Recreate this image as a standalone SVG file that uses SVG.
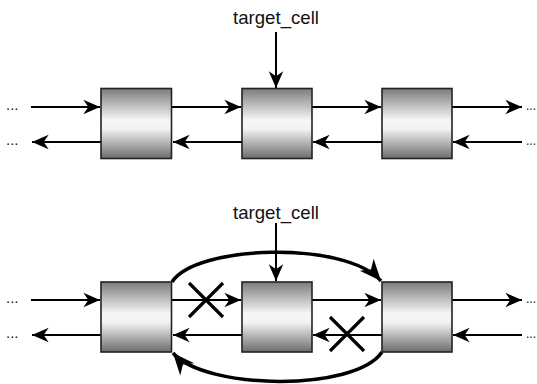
<svg xmlns="http://www.w3.org/2000/svg" width="537" height="384" viewBox="0 0 537 384">
<defs>
<linearGradient id="g" x1="0" y1="0" x2="0" y2="1">
<stop offset="0" stop-color="#7c7c7c"/>
<stop offset="0.45" stop-color="#f6f6f6"/>
<stop offset="0.58" stop-color="#f2f2f2"/>
<stop offset="1" stop-color="#6c6c6c"/>
</linearGradient>
<marker id="a" markerUnits="userSpaceOnUse" markerWidth="20" markerHeight="20" viewBox="-16 -8 18 16" refX="0" refY="0" orient="auto">
<path d="M0,0 L-15,-6.5 L-10.5,0 L-15,6.5 Z" fill="#000"/>
</marker>
<marker id="b" markerUnits="userSpaceOnUse" markerWidth="26" markerHeight="26" viewBox="-22 -11 24 22" refX="0" refY="0" orient="auto">
<path d="M0,0 L-20,-8.5 L-14,0 L-20,8.5 Z" fill="#000"/>
</marker>
</defs>
<style>
.box{fill:url(#g);stroke:#222;stroke-width:1.6}
.ln{fill:none;stroke:#000;stroke-width:2;marker-end:url(#a)}
.cv{fill:none;stroke:#000;stroke-width:3.5;marker-end:url(#b)}
.x{stroke:#000;stroke-width:3.2;stroke-linecap:butt}
.t{font-family:"Liberation Sans",Arial,sans-serif;font-size:19px;fill:#111}
.d{font-family:"Liberation Sans",Arial,sans-serif;font-size:15px;fill:#111}
</style>
<g id="connectors">
<line class="ln" x1="31" y1="107" x2="100" y2="107"/>
<line class="ln" x1="172" y1="107" x2="241" y2="107"/>
<line class="ln" x1="312" y1="107" x2="381" y2="107"/>
<line class="ln" x1="452" y1="107" x2="522" y2="107"/>
<line class="ln" x1="101" y1="142" x2="32" y2="142"/>
<line class="ln" x1="242" y1="142" x2="173" y2="142"/>
<line class="ln" x1="382" y1="142" x2="313" y2="142"/>
<line class="ln" x1="522" y1="142" x2="453" y2="142"/>
<line class="ln" x1="276" y1="32" x2="276" y2="88"/>
<line class="ln" x1="31" y1="300" x2="100" y2="300"/>
<line class="ln" x1="172" y1="300" x2="241" y2="300"/>
<line class="ln" x1="312" y1="300" x2="381" y2="300"/>
<line class="ln" x1="452" y1="300" x2="522" y2="300"/>
<line class="ln" x1="101" y1="335" x2="32" y2="335"/>
<line class="ln" x1="242" y1="335" x2="173" y2="335"/>
<line class="ln" x1="382" y1="335" x2="313" y2="335"/>
<line class="ln" x1="522" y1="335" x2="453" y2="335"/>
<line class="ln" x1="276" y1="223" x2="276" y2="281"/>
<path class="cv" d="M172,282 C195,245 345,240 381,281"/>
<path class="cv" d="M382,352 C355,392 205,390 173,353"/>
<line class="x" x1="189" y1="283" x2="223" y2="317"/>
<line class="x" x1="223" y1="283" x2="189" y2="317"/>
<line class="x" x1="330" y1="317" x2="364" y2="351"/>
<line class="x" x1="364" y1="317" x2="330" y2="351"/>
</g>
<g id="cell1"><rect class="box" x="101" y="88.5" width="70.5" height="70"/></g>
<g id="cell2"><rect class="box" x="242" y="88.5" width="70" height="70"/></g>
<g id="cell3"><rect class="box" x="382" y="88.5" width="70" height="70"/></g>
<g id="cell4"><rect class="box" x="101" y="282" width="70.5" height="70"/></g>
<g id="cell5"><rect class="box" x="242" y="282" width="70" height="70"/></g>
<g id="cell6"><rect class="box" x="382" y="282" width="70" height="70"/></g>
<g id="labels">
<text class="t" x="233" y="24" textLength="86" lengthAdjust="spacingAndGlyphs">target_cell</text>
<text class="t" x="233" y="219" textLength="86" lengthAdjust="spacingAndGlyphs">target_cell</text>
<text class="d" x="6" y="110">...</text>
<text class="d" x="6" y="145">...</text>
<text class="d" x="6" y="303">...</text>
<text class="d" x="6" y="338">...</text>
<text class="d" x="526" y="110" textLength="10" lengthAdjust="spacingAndGlyphs">...</text>
<text class="d" x="526" y="145" textLength="10" lengthAdjust="spacingAndGlyphs">...</text>
<text class="d" x="526" y="303" textLength="10" lengthAdjust="spacingAndGlyphs">...</text>
<text class="d" x="526" y="338" textLength="10" lengthAdjust="spacingAndGlyphs">...</text>
</g>
</svg>
